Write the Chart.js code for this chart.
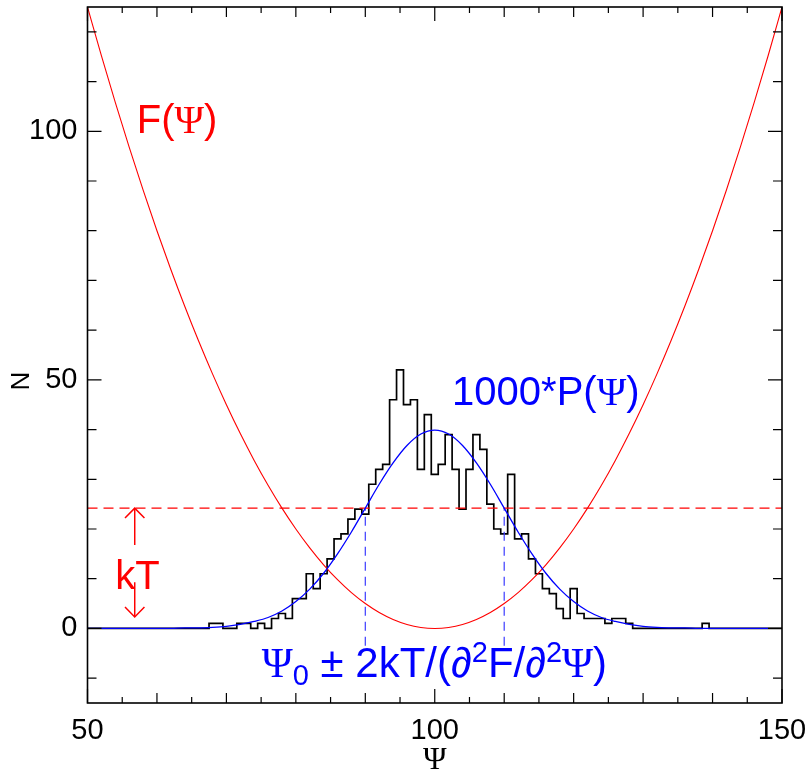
<!DOCTYPE html>
<html>
<head>
<meta charset="utf-8">
<script src="https://cdn.jsdelivr.net/npm/chart.js@4"></script>
<style>
  html, body { margin: 0; padding: 0; background: #fff; }
  #wrap { width: 812px; height: 772px; }
</style>
</head>
<body>
<div id="wrap"><canvas id="chart" width="812" height="772"></canvas></div>
<script>
// histogram: counts per unit bin, first bin centred on psi = 50
var histStart = 50;
var histCounts = [
  0, 0, 0, 0, 0, 0, 0, 0, 0, 0, 0, 0, 0, 0, 0, 0, 0, 0,
  1, 1, 0, 0, 1, 1, 0, 1, 0, 2, 3, 2,
  6, 6, 11, 8, 11, 14, 18, 19, 22, 24,
  23, 29, 32, 33, 46, 52, 45, 46, 32, 43,
  31, 33, 39, 32, 24, 32, 39, 36, 25, 20,
  19, 31, 18, 19, 14, 11, 8, 7, 4, 2,
  8, 3, 2, 2, 2, 1, 2, 2, 1, 0,
  0, 0, 0, 0, 0, 0, 0, 0, 0, 1,
  0, 0, 0, 0, 0, 0, 0, 0, 0, 0, 0
];

// F(psi), read every 2 units
var fPsi = [50, 52, 54, 56, 58, 60, 62, 64, 66, 68, 70, 72, 74, 76, 78, 80, 82, 84, 86, 88, 90, 92, 94, 96, 98,
  100, 102, 104, 106, 108, 110, 112, 114, 116, 118, 120, 122, 124, 126, 128, 130, 132, 134, 136, 138, 140, 142, 144, 146, 148, 150];
var fValues = [125, 115.2, 105.8, 96.8, 88.2, 80, 72.2, 64.8, 57.8, 51.2, 45, 39.2, 33.8, 28.8, 24.2, 20, 16.2, 12.8, 9.8, 7.2, 5, 3.2, 1.8, 0.8, 0.2,
  0, 0.2, 0.8, 1.8, 3.2, 5, 7.2, 9.8, 12.8, 16.2, 20, 24.2, 28.8, 33.8, 39.2, 45, 51.2, 57.8, 64.8, 72.2, 80, 88.2, 96.8, 105.8, 115.2, 125];

// 1000*P(psi), read every 2 units
var pPsi = [50, 52, 54, 56, 58, 60, 62, 64, 66, 68, 70, 72, 74, 76, 78, 80, 82, 84, 86, 88, 90, 92, 94, 96, 98,
  100, 102, 104, 106, 108, 110, 112, 114, 116, 118, 120, 122, 124, 126, 128, 130, 132, 134, 136, 138, 140, 142, 144, 146, 148];
var pValues = [0, 0, 0, 0, 0, 0, 0, 0.1, 0.1, 0.2, 0.4, 0.8, 1.4, 2.2, 3.5, 5.4, 7.9, 11.1, 15.0, 19.4, 24.2, 29.0, 33.3, 36.8, 39.1,
  39.9, 39.1, 36.8, 33.3, 29.0, 24.2, 19.4, 15.0, 11.1, 7.9, 5.4, 3.5, 2.2, 1.4, 0.8, 0.4, 0.2, 0.1, 0.1, 0, 0, 0, 0, 0, 0];

var kTLevel = 24.2;
var widthPsi = [90, 110];
var widthBottom = -3.5;
var arrowUp = [[55.4, 22.2], [56.8, 24.2], [58.2, 22.2]];
var arrowUpShaft = [[56.8, 24.2], [56.8, 16.8]];
var arrowDown = [[55.4, 4.3], [56.8, 2.3], [58.2, 4.3]];
var arrowDownShaft = [[56.8, 9.3], [56.8, 2.3]];

var xLabelTicks = [50, 100, 150];
var yLabelTicks = [0, 50, 100];
var xTickMarks = [50, 55, 60, 65, 70, 75, 80, 85, 90, 95, 100, 105, 110, 115, 120, 125, 130, 135, 140, 145, 150];
var yTickMarks = [-10, 0, 10, 20, 30, 40, 50, 60, 70, 80, 90, 100, 110, 120];

var SANS = '"Liberation Sans", Arial, sans-serif';
var SERIF = '"Liberation Serif", "Times New Roman", serif';

function pts(xs, ys) {
    return xs.map(function(x, i) { return { x: x, y: ys[i] }; });
}
function pairs(list) {
    return list.map(function(p) { return { x: p[0], y: p[1] }; });
}

var histData = histCounts.map(function(c, i) { return { x: histStart + i, y: c }; });

function simpleLine(data, color, width, dash) {
    return {
        data: data,
        borderColor: color,
        borderWidth: width,
        borderDash: dash || [],
        pointRadius: 0,
        fill: false,
        tension: 0
    };
}

var boxPlugin = {
    id: 'boxPlugin',
    afterDatasetsDraw: function(chart) {
        var ctx = chart.ctx, a = chart.chartArea;
        var xs = chart.scales.x, ys = chart.scales.y;
        ctx.save();
        ctx.strokeStyle = '#000';
        ctx.lineWidth = 1.2;
        ctx.beginPath();
        xTickMarks.forEach(function(v) {
            var px = xs.getPixelForValue(v);
            var len = xLabelTicks.indexOf(v) >= 0 ? 14 : (v % 10 === 0 ? 10 : 6);
            ctx.moveTo(px, a.bottom); ctx.lineTo(px, a.bottom - len);
            ctx.moveTo(px, a.top); ctx.lineTo(px, a.top + len);
        });
        yTickMarks.forEach(function(v) {
            var py = ys.getPixelForValue(v);
            var len = yLabelTicks.indexOf(v) >= 0 ? 14 : 9;
            ctx.moveTo(a.left, py); ctx.lineTo(a.left + len, py);
            ctx.moveTo(a.right, py); ctx.lineTo(a.right - len, py);
        });
        ctx.stroke();
        ctx.lineWidth = 1.6;
        ctx.strokeRect(a.left, a.top, a.right - a.left, a.bottom - a.top);
        ctx.restore();
    }
};

function drawRuns(ctx, x, y, runs, color) {
    ctx.fillStyle = color;
    ctx.textBaseline = 'alphabetic';
    ctx.textAlign = 'left';
    runs.forEach(function(r) {
        ctx.font = r[1] + 'px ' + r[2];
        ctx.fillText(r[0], x, y + (r[3] || 0));
        x += ctx.measureText(r[0]).width;
    });
}

var labelPlugin = {
    id: 'labelPlugin',
    afterDraw: function(chart) {
        var ctx = chart.ctx;
        var xs = chart.scales.x, ys = chart.scales.y;
        function at(px, py) { return [xs.getPixelForValue(px), ys.getPixelForValue(py)]; }
        ctx.save();
        var p = at(57.1, 99.7);
        drawRuns(ctx, p[0], p[1], [['F(', 40, SANS], ['\u03A8', 40, SERIF], [')', 40, SANS]], '#ff0000');
        p = at(102.5, 45);
        drawRuns(ctx, p[0], p[1], [['1000*P(', 40, SANS], ['\u03A8', 40, SERIF], [')', 40, SANS]], '#0000ff');
        p = at(54, 8);
        drawRuns(ctx, p[0], p[1], [['kT', 40, SANS]], '#ff0000');
        p = at(75.1, -9.8);
        drawRuns(ctx, p[0], p[1], [
            ['\u03A8', 42, SERIF], ['0', 29, SANS, 8], [' \u00B1 2kT/(\u2202', 42, SANS],
            ['2', 29, SANS, -15], ['F/\u2202', 42, SANS], ['2', 29, SANS, -15],
            ['\u03A8', 42, SERIF], [')', 42, SANS]
        ], '#0000ff');
        // y axis title
        ctx.translate(22, 381);
        ctx.rotate(-Math.PI / 2);
        ctx.fillStyle = '#000';
        ctx.font = '26px ' + SANS;
        ctx.textAlign = 'center';
        ctx.textBaseline = 'middle';
        ctx.fillText('N', 0, 0);
        ctx.restore();
    }
};

new Chart(document.getElementById('chart'), {
    type: 'line',
    data: {
        datasets: [
            Object.assign(simpleLine(pts(pPsi, pValues), '#0000ff', 1.3), { cubicInterpolationMode: 'monotone' }),
            Object.assign(simpleLine(pts(fPsi, fValues), '#ff0000', 1.1), { cubicInterpolationMode: 'monotone' }),
            simpleLine([{ x: 50, y: kTLevel }, { x: 150, y: kTLevel }], '#ff0000', 1.4, [10, 6]),
            simpleLine([{ x: widthPsi[0], y: widthBottom }, { x: widthPsi[0], y: kTLevel }], '#3a3aff', 1.2, [9, 6]),
            simpleLine([{ x: widthPsi[1], y: widthBottom }, { x: widthPsi[1], y: kTLevel }], '#3a3aff', 1.2, [9, 6]),
            simpleLine(pairs(arrowUpShaft), '#ff0000', 1.5),
            simpleLine(pairs(arrowUp), '#ff0000', 1.5),
            simpleLine(pairs(arrowDownShaft), '#ff0000', 1.5),
            simpleLine(pairs(arrowDown), '#ff0000', 1.5),
            Object.assign(simpleLine(histData, '#000000', 1.7), { stepped: 'middle' })
        ]
    },
    options: {
        responsive: false,
        animation: false,
        layout: { padding: { left: 0, right: 30, top: 7, bottom: 0 } },
        plugins: {
            legend: { display: false },
            tooltip: { enabled: false }
        },
        scales: {
            x: {
                type: 'linear',
                min: 50,
                max: 150,
                afterBuildTicks: function(scale) {
                    scale.ticks = xLabelTicks.map(function(v) { return { value: v }; });
                },
                afterFit: function(scale) {
                    scale.height = 69;
                    scale.paddingLeft = 0;
                    scale.paddingRight = 0;
                },
                grid: { display: false, drawTicks: false },
                border: { display: false },
                ticks: {
                    color: '#000',
                    padding: 11,
                    maxRotation: 0,
                    font: { family: SANS, size: 29 }
                },
                title: {
                    display: true,
                    text: '\u03A8',
                    color: '#000',
                    padding: 0,
                    font: { family: SERIF, size: 32, lineHeight: 0.7 }
                }
            },
            y: {
                type: 'linear',
                min: -15,
                max: 125,
                afterBuildTicks: function(scale) {
                    scale.ticks = yLabelTicks.map(function(v) { return { value: v }; });
                },
                afterFit: function(scale) {
                    scale.width = 87.5;
                    scale.paddingTop = 0;
                    scale.paddingBottom = 0;
                },
                grid: { display: false, drawTicks: false },
                border: { display: false },
                ticks: {
                    color: '#000',
                    padding: 10,
                    font: { family: SANS, size: 29 }
                }
            }
        }
    },
    plugins: [boxPlugin, labelPlugin]
});
</script>
</body>
</html>
